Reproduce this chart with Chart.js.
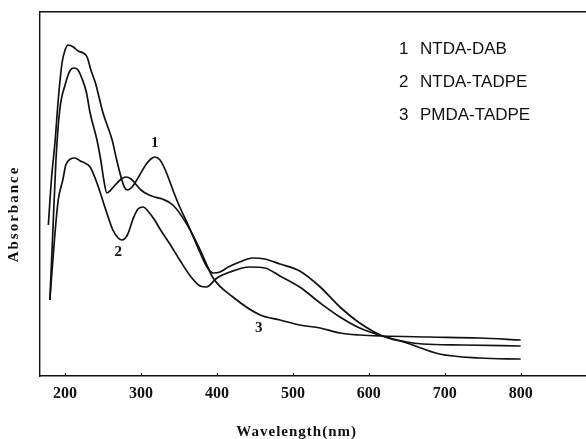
<!DOCTYPE html>
<html>
<head>
<meta charset="utf-8">
<script src="https://cdn.jsdelivr.net/npm/chart.js@4.4.1/dist/chart.umd.min.js"></script>
<style>
html,body{margin:0;padding:0;background:#fff;overflow:hidden;}
#wrap{width:586px;height:439px;}
</style>
</head>
<body>
<div id="wrap"><canvas id="c" width="586" height="439"></canvas></div>
<script>
// ---- data ----
const seriesNames = ["NTDA-DAB", "NTDA-TADPE", "PMDA-TADPE"];
const curveLabels = ["1", "2", "3"];
const xTickValues = [200, 300, 400, 500, 600, 700, 800];

const wlDab = [178,182,187,191,196,200,204,211,217,224,229,234,240,250,262,268,274,278,282,287,292,299,307,313,318,325,332,342,351,361,378,387,395,404,415,430,447,463,483,509,536,562,588,618,650,693,746,800];
const absDab = [1.51,1.96,2.36,2.76,3.13,3.26,3.31,3.29,3.25,3.23,3.19,3.06,2.93,2.63,2.36,2.16,1.98,1.89,1.86,1.88,1.93,2.02,2.12,2.17,2.19,2.16,2.06,1.86,1.69,1.53,1.23,1.09,1.03,1.04,1.09,1.14,1.18,1.17,1.12,1.05,0.89,0.69,0.53,0.40,0.33,0.22,0.18,0.17];

const wlNtdaTadpe = [180,186,191,197,201,207,213,220,226,233,242,255,263,270,275,282,290,296,303,309,318,325,338,351,365,378,386,400,417,443,463,483,509,536,562,588,618,650,671,724,800];
const absNtdaTadpe = [0.76,1.36,1.76,1.96,2.11,2.17,2.18,2.15,2.13,2.09,1.93,1.63,1.46,1.38,1.36,1.41,1.58,1.67,1.69,1.65,1.56,1.47,1.32,1.16,1.00,0.90,0.89,0.98,1.04,1.09,1.08,1.00,0.89,0.73,0.59,0.48,0.40,0.34,0.32,0.31,0.30];

const wlPmdaTadpe = [180,184,188,193,200,207,212,217,222,228,233,242,247,251,255,259,266,274,280,287,293,300,308,318,328,342,361,378,395,421,457,483,509,536,562,588,618,680,746,800];
const absPmdaTadpe = [0.76,1.46,2.16,2.66,2.91,3.06,3.08,3.06,2.98,2.84,2.63,2.36,2.16,1.96,1.83,1.85,1.91,1.97,1.99,1.97,1.92,1.86,1.82,1.79,1.77,1.71,1.51,1.26,0.98,0.79,0.61,0.56,0.51,0.48,0.43,0.41,0.40,0.39,0.38,0.36];

// curve number annotations: [wavelength, absorbance] anchor
const labelWl = [318, 270, 455];
const labelAbs = [2.33, 1.24, 0.48];

const xMin = 167, xMax = 886, yMin = 0, yMax = 3.64;

function pts(xs, ys){ return xs.map((x,i)=>({x:x, y:ys[i]})); }

const lineStyle = {borderColor:'#111', borderWidth:1.7, pointRadius:0, fill:false, cubicInterpolationMode:'monotone'};

const overlay = {
  id:'overlay',
  afterDraw(chart){
    const ctx = chart.ctx, xs = chart.scales.x, ys = chart.scales.y;
    const ca = chart.chartArea;
    ctx.save();
    ctx.fillStyle = '#111';
    ctx.strokeStyle = '#111';
    // small inward ticks on bottom axis
    ctx.lineWidth = 1.2;
    xTickValues.forEach(v=>{
      const px = Math.round(xs.getPixelForValue(v))+0.5;
      ctx.beginPath(); ctx.moveTo(px, ca.bottom); ctx.lineTo(px, ca.bottom-3); ctx.stroke();
    });
    // curve numbers
    ctx.font = 'bold 15px "Liberation Serif", "Times New Roman", serif';
    ctx.textAlign = 'center'; ctx.textBaseline = 'middle';
    curveLabels.forEach((t,i)=>{
      ctx.fillText(t, xs.getPixelForValue(labelWl[i]), ys.getPixelForValue(labelAbs[i]));
    });
    // legend text
    ctx.font = '17px "Liberation Sans", Arial, sans-serif';
    ctx.textAlign = 'left';
    seriesNames.forEach((n,i)=>{
      const y = ca.top + 37 + i*33;
      ctx.fillText(curveLabels[i], 399, y);
      ctx.fillText(n, 420, y);
    });
    // axis titles
    ctx.font = 'bold 15px "Liberation Serif", "Times New Roman", serif';
    ctx.textAlign = 'center';
    try { ctx.letterSpacing = '1px'; } catch(e) {}
    ctx.fillText('Wavelength(nm)', xs.getPixelForValue(505), 432);
    ctx.save();
    ctx.translate(14, 214);
    ctx.rotate(-Math.PI/2);
    ctx.font = 'bold 15px "Liberation Serif", "Times New Roman", serif';
    try { ctx.letterSpacing = '2px'; } catch(e) {}
    ctx.fillText('Absorbance', 0, 0);
    ctx.restore();
    ctx.restore();
  }
};

new Chart(document.getElementById('c'), {
  type:'line',
  data:{
    datasets:[
      Object.assign({label:seriesNames[0], data:pts(wlDab, absDab)}, lineStyle),
      Object.assign({label:seriesNames[1], data:pts(wlNtdaTadpe, absNtdaTadpe)}, lineStyle),
      Object.assign({label:seriesNames[2], data:pts(wlPmdaTadpe, absPmdaTadpe)}, lineStyle)
    ]
  },
  options:{
    responsive:false,
    animation:false,
    devicePixelRatio:1,
    layout:{padding:0},
    plugins:{legend:{display:false}, tooltip:{enabled:false}},
    scales:{
      x:{
        type:'linear', position:'bottom', min:xMin, max:xMax,
        afterBuildTicks(s){ s.ticks = xTickValues.map(v=>({value:v})); },
        afterFit(s){ s.height = 63; },
        grid:{display:false, drawTicks:false},
        border:{display:true, color:'#111', width:1.6},
        ticks:{color:'#111', padding:8, font:{family:'"Liberation Serif", "Times New Roman", serif', size:16, weight:'bold'}, maxRotation:0, autoSkip:false}
      },
      xTop:{
        type:'linear', position:'top', min:xMin, max:xMax,
        afterFit(s){ s.height = 12; },
        grid:{display:false, drawTicks:false},
        border:{display:true, color:'#111', width:1.4},
        ticks:{display:false}
      },
      y:{
        type:'linear', min:yMin, max:yMax,
        afterFit(s){ s.width = 40; },
        grid:{display:false, drawTicks:false},
        border:{display:true, color:'#111', width:1.4},
        ticks:{display:false}
      }
    }
  },
  plugins:[overlay]
});
</script>
</body>
</html>
